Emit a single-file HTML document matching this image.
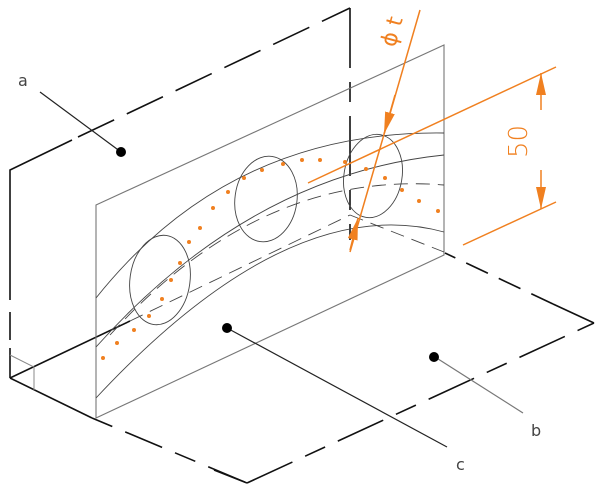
<!DOCTYPE html>
<html><head><meta charset="utf-8"><style>
html,body{margin:0;padding:0;background:#fff;width:600px;height:494px;overflow:hidden}
</style></head><body>
<svg width="600" height="494" viewBox="0 0 600 494" xmlns="http://www.w3.org/2000/svg" font-family="'DejaVu Sans','Liberation Sans',sans-serif">
<defs>
<marker id="ar" viewBox="0 0 22 10" refX="22" refY="5" markerWidth="22" markerHeight="10" markerUnits="userSpaceOnUse" orient="auto"><path d="M0,0 L22,5 L0,10 Z" fill="#f08020"/></marker>
</defs>
<g stroke="#111" stroke-width="1.6" fill="none">
<path d="M10,378 V170 L72,140"/>
<line x1="78" y1="137" x2="350" y2="8" stroke-dasharray="40,14"/>
<line x1="350" y1="8" x2="350" y2="240" stroke-dasharray="60,14,20,14"/>
<line x1="10" y1="378" x2="130" y2="321"/>
<line x1="10" y1="378" x2="92" y2="418"/>
<line x1="92" y1="418" x2="247" y2="483" stroke-dasharray="22,14,40,14"/>
<line x1="214" y1="470" x2="247" y2="483"/>
<line x1="247" y1="483" x2="594" y2="323" stroke-dasharray="50,14,22,14"/>
<line x1="594" y1="323" x2="553" y2="304"/>
<line x1="553" y1="304" x2="445" y2="253" stroke-dasharray="24,12"/>
</g>
<line x1="10" y1="300" x2="10" y2="312" stroke="#fff" stroke-width="3"/>
<line x1="10" y1="340" x2="10" y2="348" stroke="#fff" stroke-width="3"/>
<path d="M10,355 L34,367 V390" stroke="#888" stroke-width="1" fill="none"/>
<path d="M96,205 L444,45 V255 L96,418 Z" stroke="#777" stroke-width="1.1" fill="none"/>
<g stroke="#444" stroke-width="0.9" fill="none">
<path d="M96,298 Q230,130 444,133"/>
<path d="M96,398 Q290,190 444,232"/>
<path d="M96,347 Q250,175 444,155"/>
<path d="M110,335 Q260,170 444,185" stroke-dasharray="14,8"/>
<line x1="130" y1="321" x2="350" y2="215" stroke-dasharray="14,8"/>
<line x1="350" y1="215" x2="444" y2="252" stroke-dasharray="14,8"/>
<ellipse cx="160" cy="280" rx="30" ry="45" transform="rotate(8 160 280)"/>
<ellipse cx="266" cy="199" rx="31" ry="43" transform="rotate(8 266 199)"/>
<ellipse cx="373" cy="176" rx="29" ry="42" transform="rotate(10 373 176)"/>
</g>
<g fill="#f08020">
<circle cx="103" cy="358" r="2"/><circle cx="117" cy="343" r="2"/><circle cx="134" cy="330" r="2"/><circle cx="149" cy="316" r="2"/><circle cx="162" cy="299" r="2"/><circle cx="171" cy="280" r="2"/><circle cx="180" cy="263" r="2"/><circle cx="189" cy="242" r="2"/><circle cx="200" cy="228" r="2"/><circle cx="213" cy="208" r="2"/><circle cx="228" cy="192" r="2"/><circle cx="244" cy="178" r="2"/><circle cx="262" cy="170" r="2"/><circle cx="283" cy="164" r="2"/><circle cx="302" cy="160" r="2"/><circle cx="320" cy="160" r="2"/><circle cx="345" cy="162" r="2"/><circle cx="366" cy="169" r="2"/><circle cx="385" cy="178" r="2"/><circle cx="402" cy="190" r="2"/><circle cx="419" cy="201" r="2"/><circle cx="438" cy="211" r="2"/>
</g>
<g stroke="#f08020" stroke-width="1.5" fill="none">
<line x1="420" y1="10" x2="350" y2="252"/>
<line x1="395" y1="95" x2="384" y2="134" marker-end="url(#ar)"/>
<line x1="350" y1="250" x2="358" y2="218" marker-end="url(#ar)"/>
<line x1="308" y1="183" x2="556" y2="67"/>
<line x1="463" y1="245" x2="556" y2="202"/>
<line x1="541" y1="110" x2="541" y2="73" marker-end="url(#ar)"/>
<line x1="541" y1="170" x2="541" y2="209" marker-end="url(#ar)"/>
</g>
<text x="0" y="0" font-size="22" fill="#f08020" transform="translate(395,48) rotate(-75)">ϕ t</text>
<text x="0" y="0" font-size="26" fill="#f08020" font-weight="300" transform="translate(527,158) rotate(-90)">50</text>
<g stroke="#222" stroke-width="1.2">
<line x1="40" y1="92" x2="121" y2="152"/>
<line x1="227" y1="328" x2="447" y2="447"/>
<line x1="435" y1="357" x2="523" y2="413" stroke="#777"/>
</g>
<g fill="#000"><circle cx="121" cy="152" r="5"/><circle cx="227" cy="328" r="5"/><circle cx="434" cy="357" r="5"/></g>
<g font-size="16" fill="#444">
<text x="18" y="86">a</text>
<text x="531" y="436">b</text>
<text x="456" y="470">c</text>
</g>
</svg>
</body></html>
